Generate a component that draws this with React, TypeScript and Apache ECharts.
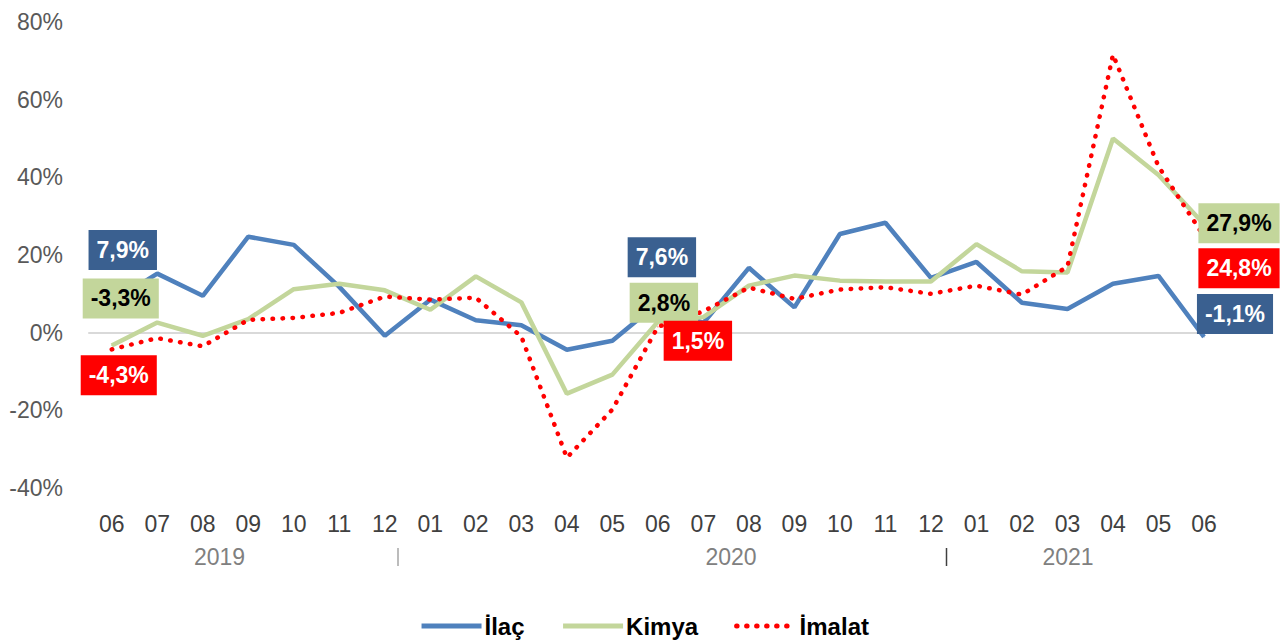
import React, { useEffect, useRef } from "react";
import * as echarts from "echarts";

const months = ["06","07","08","09","10","11","12","01","02","03","04","05","06","07","08","09","10","11","12","01","02","03","04","05","06"];
const ilac = [7.9, 15.2, 9.5, 24.7, 22.6, 11.8, -0.8, 8.5, 3.2, 1.9, -4.4, -2.1, 7.6, 2.5, 16.7, 6.5, 25.4, 28.3, 14.1, 18.2, 7.7, 6.1, 12.6, 14.6, -1.1];
const kimya = [-3.3, 2.6, -0.8, 3.5, 11.2, 12.6, 10.9, 5.9, 14.5, 7.8, -15.7, -10.8, 2.8, 4.0, 12.1, 14.7, 13.4, 13.2, 13.2, 22.8, 15.8, 15.5, 50.0, 40.6, 27.9];
const imalat = [-4.3, -1.4, -3.5, 3.3, 3.8, 5.1, 9.3, 8.5, 9.0, -1.0, -32.2, -19.8, 1.5, 5.5, 11.6, 8.7, 11.1, 11.7, 10.0, 12.1, 9.8, 17.0, 71.6, 42.8, 24.8];
const years = ["2019", "2020", "2021"];
const yTicks = { min: -40, max: 80, interval: 20 };

const FONT = "'Liberation Sans', Arial, sans-serif";

// label offsets per series: index -> [dx, dy]
const ilacLabels: Record<number, number[]> = { 0: [11, -52], 12: [4, -46], 24: [31, -23] };
const kimyaLabels: Record<number, number[]> = { 0: [9, -47], 12: [6, -19], 24: [35, -1] };
const imalatLabels: Record<number, number[]> = { 0: [7, 26], 12: [40, 14], 24: [35, 32] };

const fmt = (v: number) => v.toFixed(1).replace(".", ",") + "%";

function buildData(values: number[], labels: Record<number, number[]>, bg: string, fg: string) {
  return values.map((v, i) => {
    const off = labels[i];
    if (!off) return v;
    return {
      value: v,
      symbol: "circle",
      symbolSize: 1,
      label: {
        show: true,
        position: "inside",
        offset: off,
        formatter: () => fmt(v),
        backgroundColor: bg,
        color: fg,
        fontFamily: FONT,
        fontWeight: "bold",
        fontSize: 23,
        lineHeight: 24,
        padding: [8, 8, 8, 8],
      },
    };
  });
}

export default function App() {
  const ref = useRef<HTMLDivElement>(null);
  useEffect(() => {
    if (!ref.current) return;
    const chart = echarts.init(ref.current, null, { renderer: "svg" });
    chart.setOption({
      animation: false,
      backgroundColor: "#ffffff",
      grid: { left: 89, right: 1288 - 1226.75, top: 22, bottom: 641 - 488, containLabel: false },
      xAxis: [
        {
          type: "category",
          data: months,
          boundaryGap: true,
          axisLine: { show: false, onZero: false },
          axisTick: { show: false },
          axisLabel: { color: "#404040", fontSize: 23, fontFamily: FONT, margin: 24, interval: 0 },
          splitLine: { show: false },
        },
        {
          type: "category",
          data: months,
          position: "bottom",
          boundaryGap: true,
          axisLine: { show: true, onZero: true, lineStyle: { color: "#d9d9d9", width: 2 } },
          axisTick: { show: false },
          axisLabel: { show: false },
          splitLine: { show: false },
        },
      ],
      yAxis: {
        type: "value",
        min: yTicks.min,
        max: yTicks.max,
        interval: yTicks.interval,
        axisLine: { show: false },
        axisTick: { show: false },
        splitLine: { show: false },
        axisLabel: { color: "#595959", fontSize: 23, fontFamily: FONT, margin: 26, formatter: (v: number) => v + "%" },
      },
      legend: {
        left: "center",
        top: 609,
        itemWidth: 60,
        itemHeight: 14,
        itemGap: 36,
        itemStyle: { opacity: 0 },
        lineStyle: { width: 5 },
        textStyle: { color: "#000", fontSize: 24, fontWeight: "bold", fontFamily: FONT, padding: [0, 0, 0, -2] },
        data: ["İlaç", "Kimya", "İmalat"],
      },
      series: [
        {
          name: "İlaç",
          type: "line",
          symbol: "none",
          showSymbol: true,
          showAllSymbol: true,
          color: "#4F81BD",
          lineStyle: { color: "#4F81BD", width: 4.5 },
          data: buildData(ilac, ilacLabels, "#3A6090", "#ffffff"),
          z: 3,
        },
        {
          name: "Kimya",
          type: "line",
          symbol: "none",
          showSymbol: true,
          showAllSymbol: true,
          color: "#C3D69B",
          lineStyle: { color: "#C3D69B", width: 4.5 },
          data: buildData(kimya, kimyaLabels, "#C3D69B", "#000000"),
          z: 3,
        },
        {
          name: "İmalat",
          type: "line",
          symbol: "none",
          showSymbol: true,
          showAllSymbol: true,
          color: "#FF0000",
          lineStyle: { color: "#FF0000", width: 4.5, type: [0.5, 9.5], cap: "round" },
          data: buildData(imalat, imalatLabels, "#FF0000", "#ffffff"),
          z: 3,
        },
      ],
      graphic: [
        { type: "text", x: 219.5, y: 557, style: { text: years[0], fill: "#808080", font: `23px ${FONT}`, textAlign: "center", textVerticalAlign: "middle" } },
        { type: "text", x: 731, y: 557, style: { text: years[1], fill: "#808080", font: `23px ${FONT}`, textAlign: "center", textVerticalAlign: "middle" } },
        { type: "text", x: 1068, y: 557, style: { text: years[2], fill: "#808080", font: `23px ${FONT}`, textAlign: "center", textVerticalAlign: "middle" } },
        { type: "line", shape: { x1: 398, y1: 548, x2: 398, y2: 566 }, style: { stroke: "#a6a6a6", lineWidth: 1.5 } },
        { type: "line", shape: { x1: 946.5, y1: 548, x2: 946.5, y2: 566 }, style: { stroke: "#404040", lineWidth: 1.5 } },
      ],
    });
    return () => chart.dispose();
  }, []);
  return <div ref={ref} style={{ position: "fixed", left: 0, top: 0, width: 1288, height: 641 }} />;
}
